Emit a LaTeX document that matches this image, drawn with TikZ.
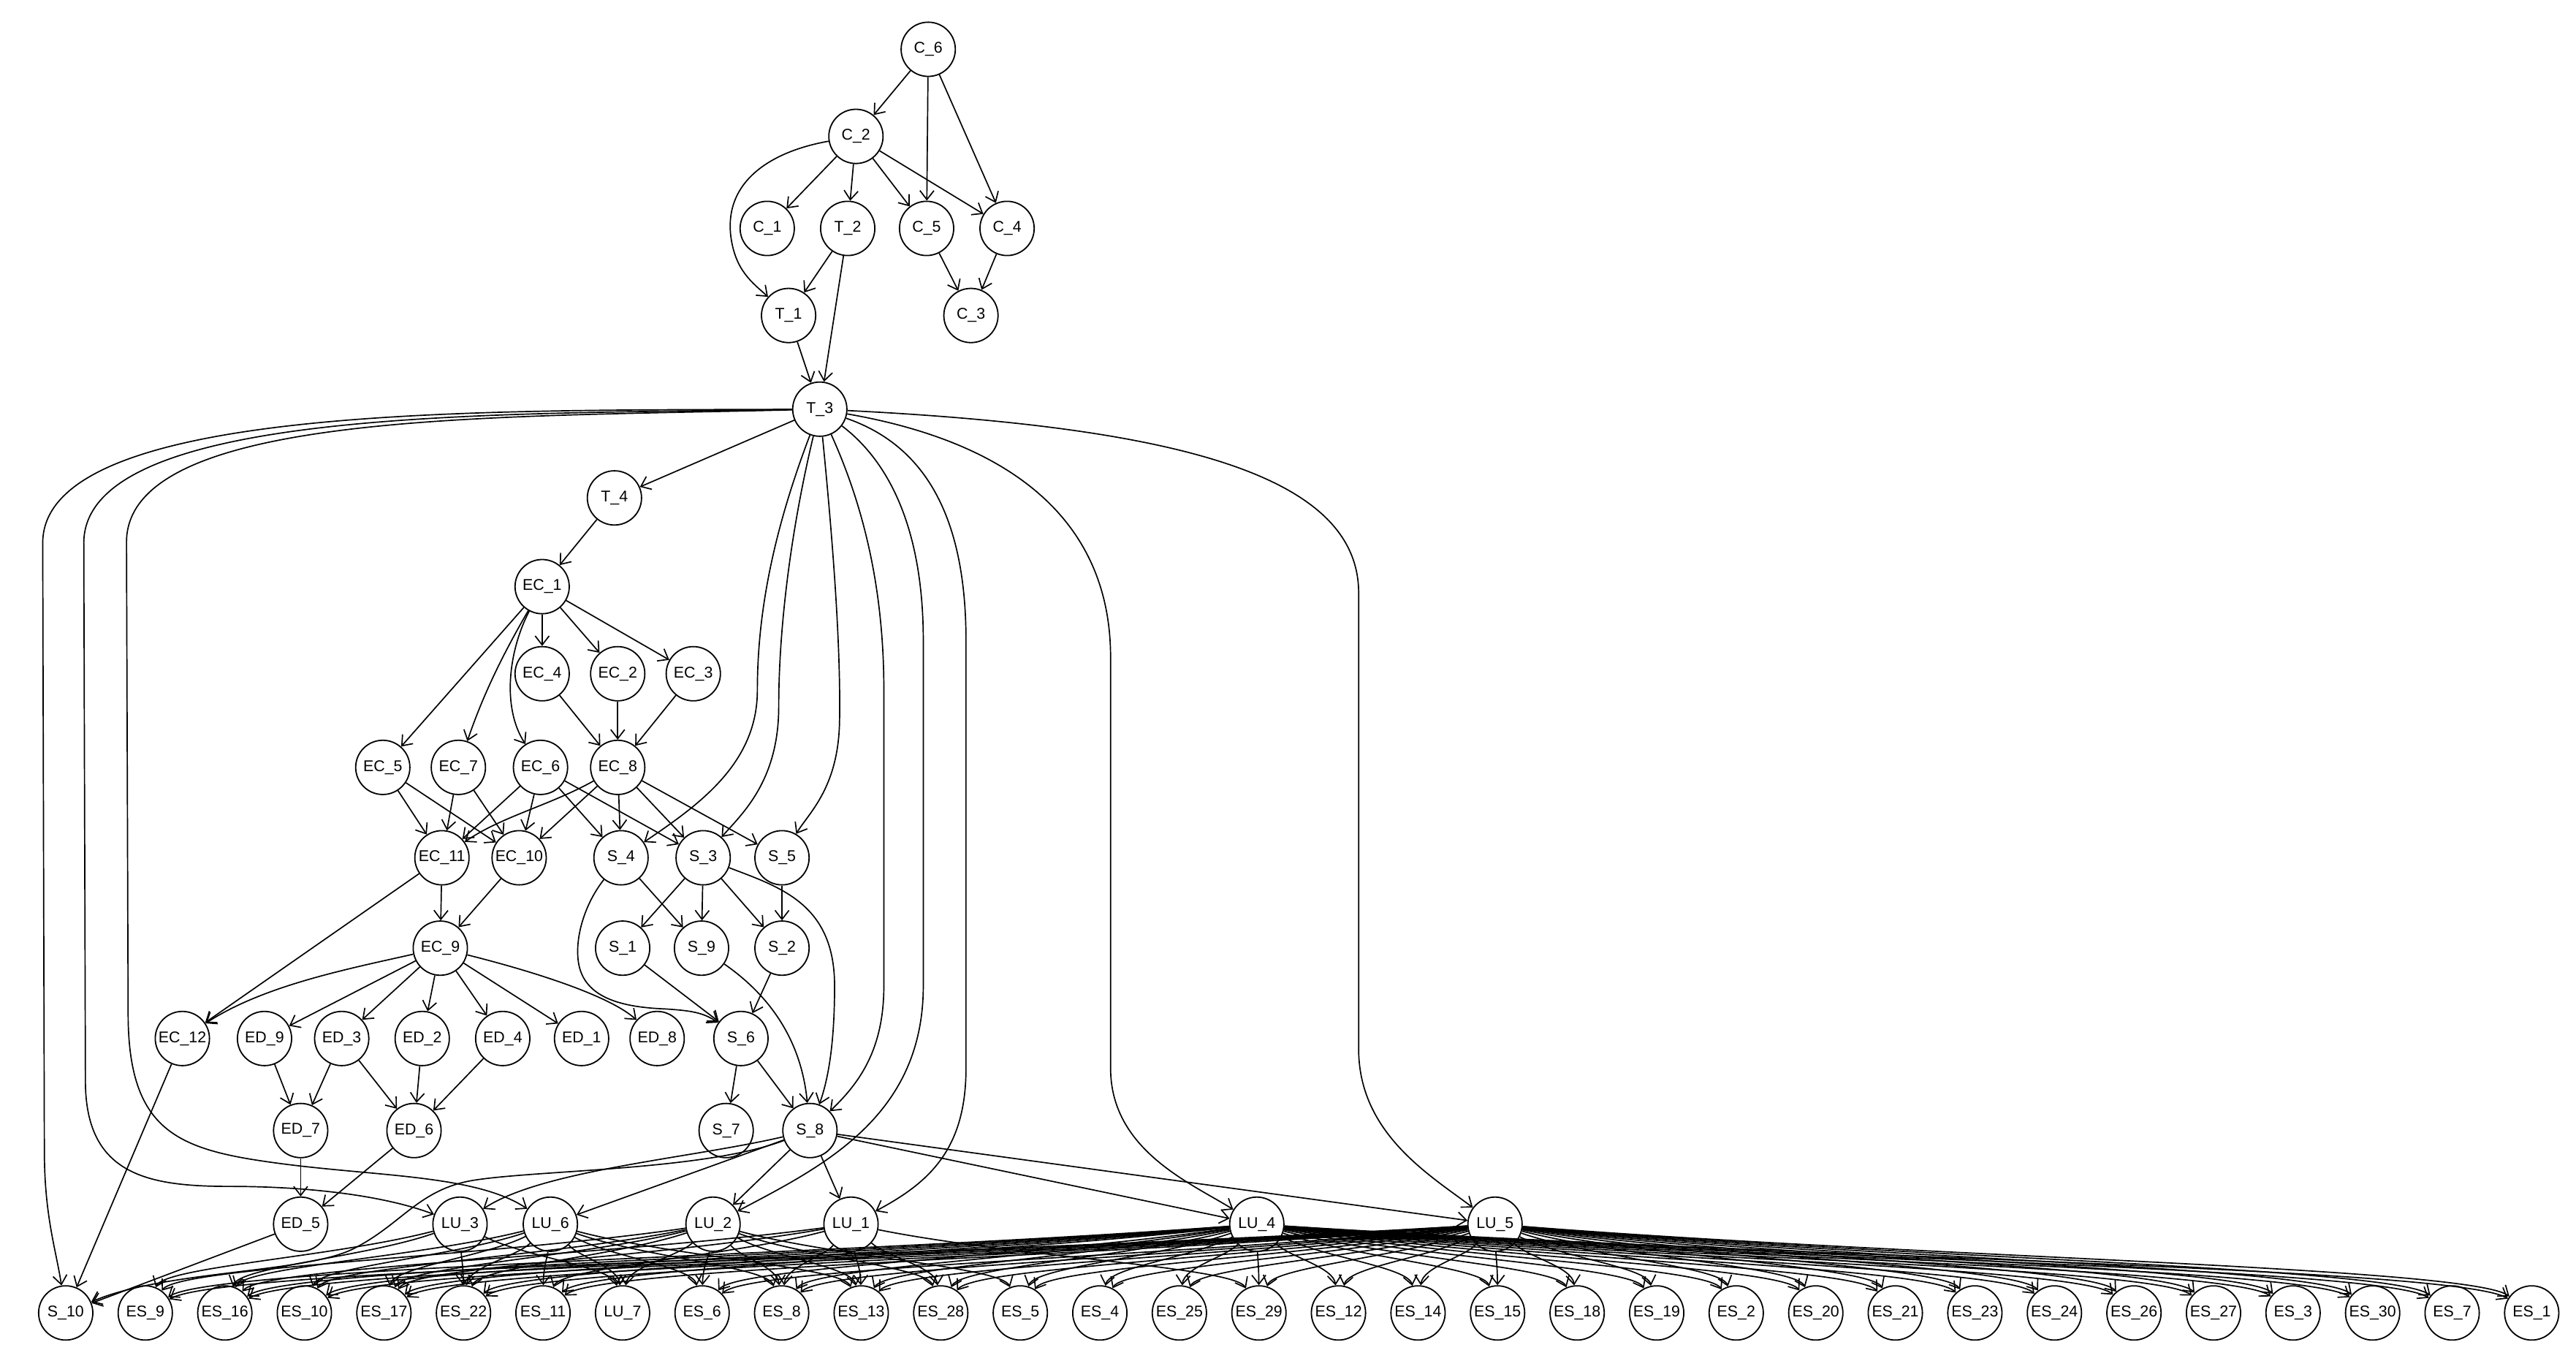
\documentclass[tikz,border=0pt]{standalone}
\usepackage{fontspec}
\setmainfont{Liberation Sans}
\usetikzlibrary{arrows.meta,calc}
\newcommand\luedge[2]{\draw[arr] let \p1=(#1), \p2=(#2), \n1={\x2-\x1} in (#1) .. controls ({\x1+0.4*\n1},{\y1-20pt}) and ({\x2-0.06*\n1},{\y2+28pt}) .. (#2);}
\begin{document}
\begin{tikzpicture}[x=1pt,y=-1pt,
  nd/.style={circle,draw,line width=0.8pt,minimum size=33pt,inner sep=0pt,fill=white,font=\fontsize{9.5}{10}\selectfont},
  arr/.style={-{Straight Barb[length=5.5pt,width=8.5pt]},line width=0.75pt}]
\useasboundingbox (0,0) rectangle (1568,828);
% top
\node[nd] (C6) at (565,30) {C\_6};
\node[nd] (C2) at (521,83) {C\_2};
\node[nd] (C1) at (467,139) {C\_1};
\node[nd] (T2) at (516,139) {T\_2};
\node[nd] (C5) at (564,139) {C\_5};
\node[nd] (C4) at (613,139) {C\_4};
\node[nd] (T1) at (480,192) {T\_1};
\node[nd] (C3) at (591,192) {C\_3};
\node[nd] (T3) at (499,249) {T\_3};
\node[nd] (T4) at (374,303) {T\_4};
\node[nd] (EC1) at (330,357) {EC\_1};
\node[nd] (EC4) at (330,410) {EC\_4};
\node[nd] (EC2) at (376,410) {EC\_2};
\node[nd] (EC3) at (422,410) {EC\_3};
\node[nd] (EC5) at (233,467) {EC\_5};
\node[nd] (EC7) at (279,467) {EC\_7};
\node[nd] (EC6) at (329,467) {EC\_6};
\node[nd] (EC8) at (376,467) {EC\_8};
\node[nd] (EC11) at (269,522) {EC\_11};
\node[nd] (EC10) at (316,522) {EC\_10};
\node[nd] (S4) at (378,522) {S\_4};
\node[nd] (S3) at (428,522) {S\_3};
\node[nd] (S5) at (476,522) {S\_5};
\node[nd] (EC9) at (268,577) {EC\_9};
\node[nd] (S1) at (379,577) {S\_1};
\node[nd] (S9) at (427,577) {S\_9};
\node[nd] (S2) at (476,577) {S\_2};
\node[nd] (EC12) at (111,632) {EC\_12};
\node[nd] (ED9) at (161,632) {ED\_9};
\node[nd] (ED3) at (208,632) {ED\_3};
\node[nd] (ED2) at (257,632) {ED\_2};
\node[nd] (ED4) at (306,632) {ED\_4};
\node[nd] (ED1) at (354,632) {ED\_1};
\node[nd] (ED8) at (400,632) {ED\_8};
\node[nd] (S6) at (451,632) {S\_6};
\node[nd] (ED7) at (183,688) {ED\_7};
\node[nd] (ED6) at (252,688) {ED\_6};
\node[nd] (S7) at (442,688) {S\_7};
\node[nd] (S8) at (493,688) {S\_8};
\node[nd] (ED5) at (183,745) {ED\_5};
\node[nd] (LU3) at (280,745) {LU\_3};
\node[nd] (LU6) at (335,745) {LU\_6};
\node[nd] (LU2) at (434,745) {LU\_2};
\node[nd] (LU1) at (518,745) {LU\_1};
\node[nd] (LU4) at (765,745) {LU\_4};
\node[nd] (LU5) at (910,745) {LU\_5};
\foreach \n/\l [count=\k from 0] in {S10/S\_10,ES9/ES\_9,ES16/ES\_16,ES10/ES\_10,ES17/ES\_17,ES22/ES\_22,ES11/ES\_11,LU7/LU\_7,ES6/ES\_6,ES8/ES\_8,ES13/ES\_13,ES28/ES\_28,ES5/ES\_5,ES4/ES\_4,ES25/ES\_25,ES29/ES\_29,ES12/ES\_12,ES14/ES\_14,ES15/ES\_15,ES18/ES\_18,ES19/ES\_19,ES2/ES\_2,ES20/ES\_20,ES21/ES\_21,ES23/ES\_23,ES24/ES\_24,ES26/ES\_26,ES27/ES\_27,ES3/ES\_3,ES30/ES\_30,ES7/ES\_7,ES1/ES\_1}
  {\node[nd] (\n) at ({40+48.42*\k},799) {\l};}

% top edges
\draw[arr] (C6) -- (C2);
\draw[arr] (C6) -- (C5);
\draw[arr] (C6) -- (C4);
\draw[arr] (C2) .. controls (470,92) and (440,110) .. (445,145) .. controls (448,165) and (458,172) .. (T1);
\draw[arr] (C2) -- (C1);
\draw[arr] (C2) -- (T2);
\draw[arr] (C2) -- (C5);
\draw[arr] (C2) -- (C4);
\draw[arr] (T2) -- (T1);
\draw[arr] (T2) -- (T3);
\draw[arr] (T1) -- (T3);
\draw[arr] (C5) -- (C3);
\draw[arr] (C4) -- (C3);

% T3 edges
\draw[arr] (T3) -- (T4);
\draw[arr] (T3) .. controls (300,250) and (27,245) .. (26,330) -- (27,700) .. controls (27,740) and (34,760) .. (S10);
\draw[arr] (T3) .. controls (300,252) and (52,248) .. (51,330) -- (52,660) .. controls (53,715) and (90,722) .. (140,722) .. controls (190,722) and (235,728) .. (LU3);
\draw[arr] (T3) .. controls (300,254) and (77,250) .. (77,330) -- (78,620) .. controls (79,690) and (110,700) .. (170,708) .. controls (230,716) and (290,715) .. (LU6);
\draw[arr] (T3) .. controls (472,320) and (461,370) .. (461,420) .. controls (461,465) and (425,490) .. (S4);
\draw[arr] (T3) .. controls (482,320) and (474,380) .. (474,430) .. controls (474,475) and (452,495) .. (S3);
\draw[arr] (T3) .. controls (506,320) and (512,390) .. (511,440) .. controls (510,480) and (492,495) .. (S5);
\draw[arr] (T3) .. controls (522,300) and (538,350) .. (538,420) -- (538,600) .. controls (538,640) and (522,660) .. (S8);
\draw[arr] (T3) .. controls (540,280) and (562,320) .. (562,390) -- (562,600) .. controls (562,680) and (500,710) .. (LU2);
\draw[arr] (T3) .. controls (560,270) and (588,310) .. (588,390) -- (588,650) .. controls (588,700) and (565,720) .. (LU1);
\draw[arr] (T3) .. controls (620,270) and (676,320) .. (676,400) -- (676,650) .. controls (676,700) and (725,720) .. (LU4);
\draw[arr] (T3) .. controls (720,260) and (826,290) .. (827,360) -- (827,640) .. controls (828,690) and (870,715) .. (LU5);

% EC edges
\draw[arr] (T4) -- (EC1);
\draw[arr] (EC1) -- (EC4);
\draw[arr] (EC1) -- (EC2);
\draw[arr] (EC1) -- (EC3);
\draw[arr] (EC1) -- (EC5);
\draw[arr] (EC1) .. controls (308,395) and (295,420) .. (EC7);
\draw[arr] (EC1) .. controls (310,395) and (305,430) .. (EC6);
\draw[arr] (EC4) -- (EC8);
\draw[arr] (EC2) -- (EC8);
\draw[arr] (EC3) -- (EC8);
\draw[arr] (EC5) -- (EC11);
\draw[arr] (EC5) -- (EC10);
\draw[arr] (EC7) -- (EC11);
\draw[arr] (EC7) -- (EC10);
\draw[arr] (EC6) -- (EC11);
\draw[arr] (EC6) -- (EC10);
\draw[arr] (EC6) -- (S4);
\draw[arr] (EC6) -- (S3);
\draw[arr] (EC8) .. controls (335,490) and (305,497) .. (EC11);
\draw[arr] (EC8) -- (EC10);
\draw[arr] (EC8) -- (S4);
\draw[arr] (EC8) -- (S3);
\draw[arr] (EC8) -- (S5);
\draw[arr] (EC11) -- (EC9);
\draw[arr] (EC11) -- (EC12);
\draw[arr] (EC10) -- (EC9);
\draw[arr] (EC9) .. controls (210,590) and (160,600) .. (EC12);
\draw[arr] (EC9) -- (ED9);
\draw[arr] (EC9) -- (ED3);
\draw[arr] (EC9) -- (ED2);
\draw[arr] (EC9) -- (ED4);
\draw[arr] (EC9) -- (ED1);
\draw[arr] (EC9) .. controls (320,590) and (370,605) .. (ED8);
\draw[arr] (ED9) -- (ED7);
\draw[arr] (ED3) -- (ED7);
\draw[arr] (ED3) -- (ED6);
\draw[arr] (ED2) -- (ED6);
\draw[arr] (ED4) -- (ED6);
\draw[arr] (ED7) -- (ED5);
\draw[arr] (ED6) -- (ED5);
\draw[arr] (ED5) -- (S10);
\draw[arr] (EC12) -- (S10);

% S edges
\draw[arr] (S4) -- (S9);
\draw[arr] (S4) .. controls (356,550) and (350,570) .. (352,585) .. controls (355,608) and (380,613) .. (405,614) .. controls (420,615) and (428,616) .. (S6);
\draw[arr] (S3) -- (S1);
\draw[arr] (S3) -- (S9);
\draw[arr] (S3) -- (S2);
\draw[arr] (S3) .. controls (475,540) and (508,550) .. (508,600) .. controls (508,640) and (503,660) .. (S8);
\draw[arr] (S5) -- (S2);
\draw[arr] (S1) -- (S6);
\draw[arr] (S2) -- (S6);
\draw[arr] (S9) .. controls (460,600) and (487,625) .. (S8);
\draw[arr] (S6) -- (S7);
\draw[arr] (S6) -- (S8);

% S8 edges
\draw[arr] (S8) .. controls (430,712) and (330,712) .. (290,718) .. controls (255,723) and (245,745) .. (215,760) .. controls (185,775) and (100,773) .. (S10);
\draw[arr] (S8) .. controls (420,705) and (330,712) .. (LU3);
\draw[arr] (S8) -- (LU6);
\draw[arr] (S8) -- (LU2);
\draw[arr] (S8) -- (LU1);
\draw[arr] (S8) -- (LU4);
\draw[arr] (S8) -- (LU5);

% LU edges
\foreach \t in {ES9,ES16,ES22,LU7} {\luedge{LU3}{\t}}
\foreach \t in {ES16,ES10,ES17,ES22,ES11,LU7,ES6,ES8,ES13} {\luedge{LU6}{\t}}
\foreach \t in {ES9,ES10,ES17,ES22,LU7,ES6,ES8,ES13,ES28,ES5} {\luedge{LU2}{\t}}
\foreach \t in {ES16,ES17,ES11,ES8,ES13,ES28,ES29} {\luedge{LU1}{\t}}
\foreach \t in {ES9,ES16,ES10,ES17,ES22,ES11,ES6,ES8,ES13,ES28,ES5,ES4,ES25,ES29,ES12,ES14,ES15,ES18,ES19,ES2,ES20,ES21,ES23,ES24,ES26,ES27,ES3,ES30,ES7,ES1} {\luedge{LU4}{\t}}
\foreach \t in {ES9,ES16,ES10,ES17,ES22,ES11,ES6,ES8,ES13,ES28,ES5,ES4,ES25,ES29,ES12,ES14,ES15,ES18,ES19,ES2,ES20,ES21,ES23,ES24,ES26,ES27,ES3,ES30,ES7,ES1} {\luedge{LU5}{\t}}
\end{tikzpicture}
\end{document}
